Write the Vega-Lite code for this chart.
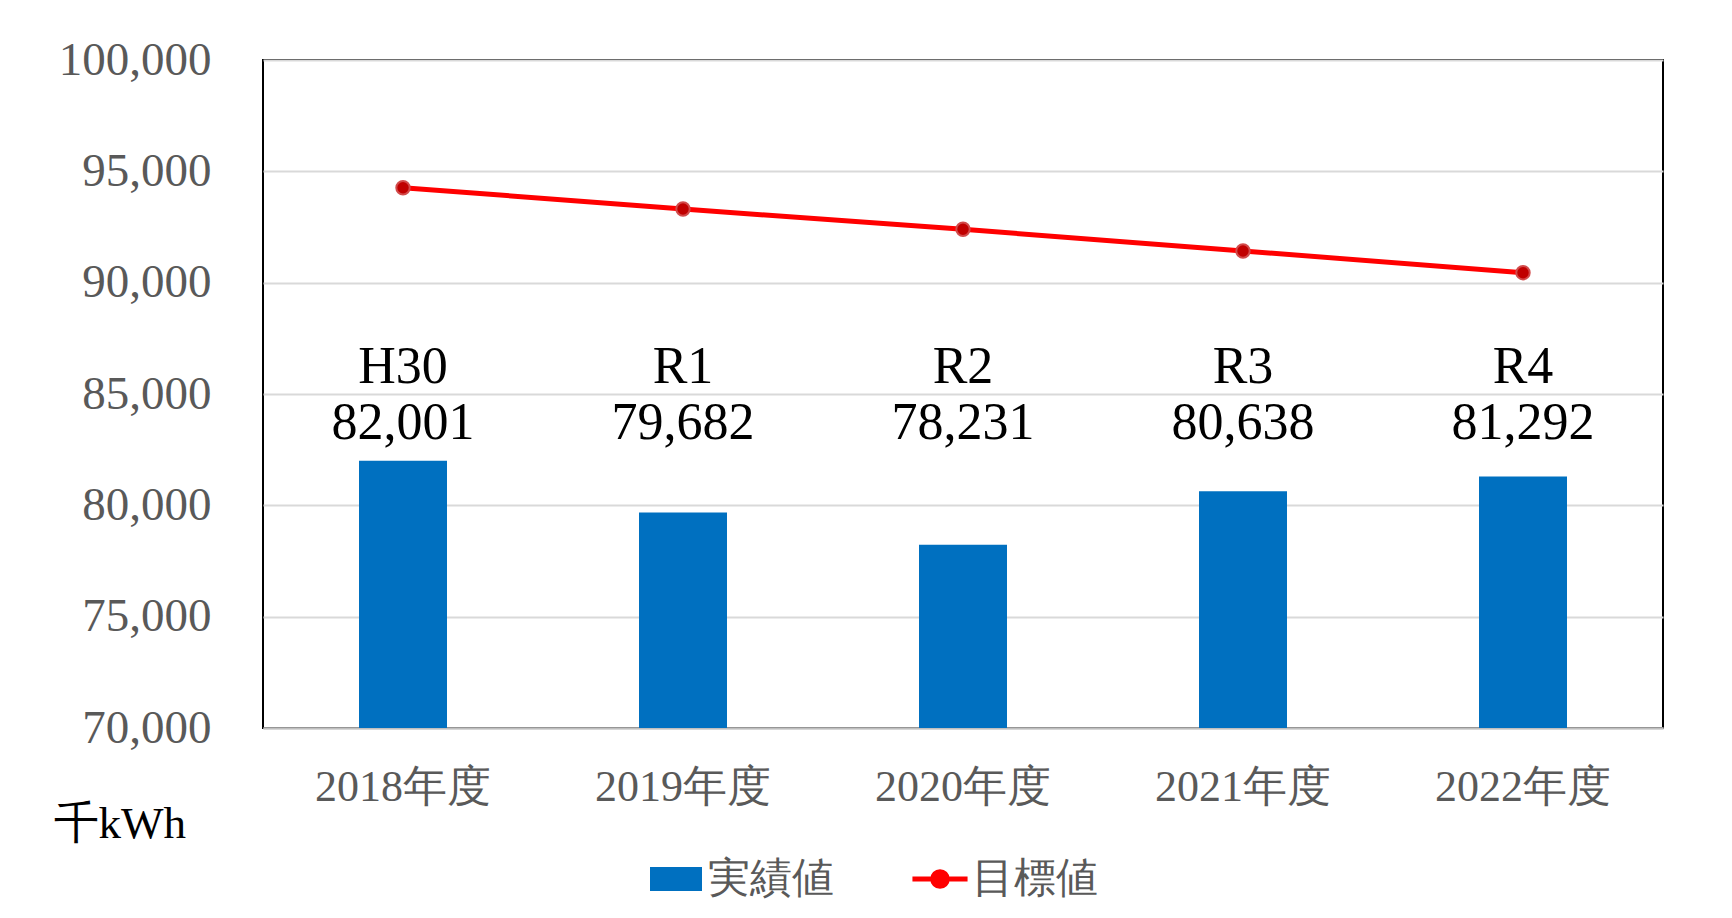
{
  "$schema": "https://vega.github.io/schema/vega-lite/v6.json",
  "width": 1400,
  "height": 668,
  "autosize": {"type": "none"},
  "padding": {"left": 263, "top": 60, "right": 69, "bottom": 190},
  "background": "white",
  "config": {
    "view": {"stroke": "black", "strokeWidth": 2},
    "font": "Liberation Serif"
  },
  "data": {
    "values": [
      {"year": "2018年度", "code": "H30", "actual": 82001, "target": 94265},
      {"year": "2019年度", "code": "R1", "actual": 79682, "target": 93308},
      {"year": "2020年度", "code": "R2", "actual": 78231, "target": 92396},
      {"year": "2021年度", "code": "R3", "actual": 80638, "target": 91422},
      {"year": "2022年度", "code": "R4", "actual": 81292, "target": 90449}
    ]
  },
  "encoding": {
    "x": {
      "field": "year",
      "type": "nominal",
      "sort": null,
      "scale": {"paddingInner": 0, "paddingOuter": 0},
      "axis": {
        "title": null,
        "labelAngle": 0,
        "labelFont": "Liberation Serif",
        "labelFontSize": 44,
        "labelColor": "#595959",
        "labelPadding": 37,
        "ticks": false,
        "domain": true,
        "domainColor": "#BFBFBF",
        "domainWidth": 2,
        "grid": false
      }
    }
  },
  "layer": [
    {
      "mark": {"type": "bar", "width": 88, "clip": true},
      "encoding": {
        "y": {
          "field": "actual",
          "type": "quantitative",
          "scale": {"domain": [70000, 100000], "zero": false, "nice": false},
          "axis": {
            "values": [70000, 75000, 80000, 85000, 90000, 95000, 100000],
            "format": ",d",
            "labelFont": "Liberation Serif",
            "labelFontSize": 47,
            "labelColor": "#595959",
            "labelPadding": 52,
            "ticks": false,
            "domain": false,
            "grid": true,
            "gridColor": "#D9D9D9",
            "gridWidth": 2,
            "title": "千kWh",
            "titleAngle": 0,
            "titleX": -210,
            "titleY": 777,
            "titleAlign": "left",
            "titleBaseline": "alphabetic",
            "titleFont": "Liberation Serif",
            "titleFontSize": 45,
            "titleFontWeight": "normal",
            "titleColor": "black"
          }
        },
        "color": {
          "datum": "実績値",
          "scale": {"domain": ["実績値", "目標値"], "range": ["#0070C0", "#FF0000"]},
          "legend": {
            "title": null,
            "orient": "none",
            "direction": "horizontal",
            "legendX": 392,
            "legendY": 798,
            "symbolSize": 2704,
            "labelFont": "Liberation Serif",
            "labelFontSize": 42,
            "labelColor": "#595959",
            "labelOffset": 11,
            "columnPadding": 68,
            "encode": {
              "symbols": {
                "update": {
                  "shape": {"signal": "datum.value === '実績値' ? 'M-1,-0.46H1V0.46H-1Z' : 'M-1.06,0H-0.28M0.28,0H1.06M0.28,0A0.28,0.28,0,1,1,-0.28,0A0.28,0.28,0,1,1,0.28,0Z'"},
                  "fill": {"signal": "datum.value === '実績値' ? '#0070C0' : '#C00000'"},
                  "stroke": {"signal": "datum.value === '実績値' ? 'transparent' : '#FF0000'"},
                  "strokeWidth": {"signal": "datum.value === '実績値' ? 0 : 5"},
                  "opacity": {"value": 1},
                  "fillOpacity": {"value": 1},
                  "strokeOpacity": {"value": 1}
                }
              }
            }
          }
        }
      }
    },
    {
      "mark": {"type": "line", "strokeWidth": 5},
      "encoding": {
        "y": {"field": "target", "type": "quantitative"},
        "color": {"datum": "目標値"}
      }
    },
    {
      "mark": {"type": "point", "filled": true, "size": 180, "fill": "#C00000", "stroke": "#D24B4B", "strokeWidth": 2, "opacity": 1, "fillOpacity": 1},
      "encoding": {
        "y": {"field": "target", "type": "quantitative"}
      }
    },
    {
      "mark": {"type": "text", "font": "Liberation Serif", "fontSize": 52, "color": "black", "align": "center", "baseline": "alphabetic"},
      "encoding": {
        "y": {"datum": 82980, "type": "quantitative"},
        "text": {"field": "actual", "type": "quantitative", "format": ",d"}
      }
    },
    {
      "mark": {"type": "text", "font": "Liberation Serif", "fontSize": 52, "color": "black", "align": "center", "baseline": "alphabetic"},
      "encoding": {
        "y": {"datum": 85490, "type": "quantitative"},
        "text": {"field": "code", "type": "nominal"}
      }
    }
  ]
}
